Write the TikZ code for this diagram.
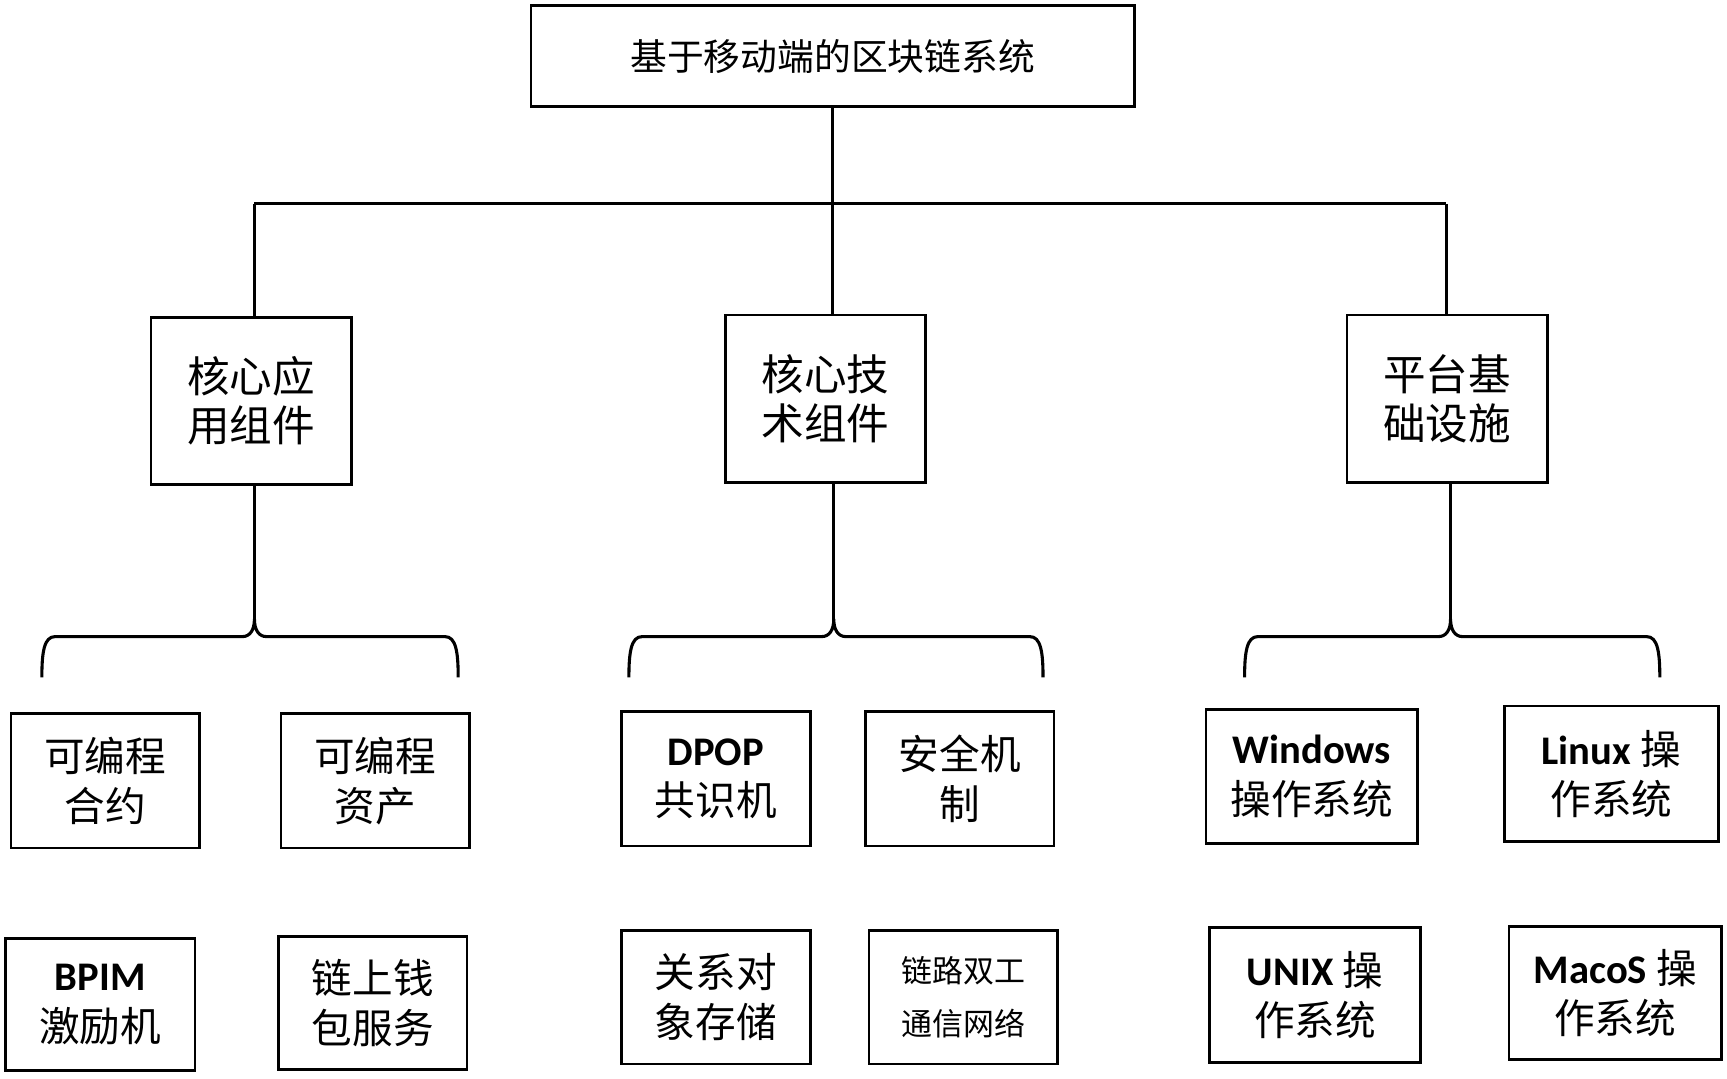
\documentclass[tikz,border=0pt]{standalone}
\usepackage{fontspec}
\setmainfont{Noto Sans CJK SC}
\newfontfamily\latin{Carlito}
\usetikzlibrary{positioning}
\newcommand{\lat}[1]{{\latin\bfseries #1}}

\begin{document}
\begin{tikzpicture}[x=0.02cm, y=-0.02cm,
		every path/.style={line width=1.6pt},
		box/.style={draw, line width=1.4pt, inner sep=0pt, align=center},
		topbox/.style={box, font=\fontsize{19}{22}\selectfont},
		midbox/.style={box, minimum width=3.64cm, minimum height=3.04cm, font=\fontsize{22}{25}\selectfont},
		leafbox/.style={box, minimum height=2.44cm, font=\fontsize{21}{26}\selectfont}]
		\useasboundingbox (0,0) rectangle (1568,979);
		
		\node[topbox, minimum width=10.96cm, minimum height=1.84cm] (top) at (756,51) {基于移动端的区块链系统};
		
		\node[midbox] (app) at (228,364) {核心应\\用组件};
		\node[midbox] (tech) at (749.5,362) {核心技\\术组件};
		\node[midbox] (plat) at (1314,362) {平台基\\础设施};
		
		\node[leafbox, minimum width=3.42cm] (contract) at (95.5,709) {可编程\\合约};
		\node[leafbox, minimum width=3.42cm] (asset) at (340.5,709) {可编程\\资产};
		\node[leafbox, minimum width=3.44cm] (dpop) at (650,707) {\lat{DPOP}\\共识机};
		\node[leafbox, minimum width=3.42cm] (secure) at (871.5,707) {安全机\\制};
		\node[leafbox, minimum width=3.84cm] (windows) at (1191,705) {\lat{Windows}\\操作系统};
		\node[leafbox, minimum width=3.88cm, minimum height=2.46cm] (linux) at (1463,702.5) {\lat{Linux} 操\\作系统};
		
		\node[leafbox, minimum width=3.44cm, minimum height=2.4cm] (bpim) at (91,912) {\lat{BPIM}\\激励机};
		\node[leafbox, minimum width=3.42cm, minimum height=2.42cm] (wallet) at (338.5,910.5) {链上钱\\包服务};
		\node[leafbox, minimum width=3.44cm, minimum height=2.42cm] (store) at (650,905.5) {关系对\\象存储};
		\node[leafbox, minimum width=3.42cm, minimum height=2.42cm, font=\fontsize{16}{27}\selectfont] (duplex) at (874.5,905.5) {链路双工\\通信网络};
		\node[leafbox, minimum width=3.84cm, minimum height=2.46cm] (unix) at (1194,903.5) {\lat{UNIX} 操\\作系统};
		\node[leafbox, minimum width=3.86cm, minimum height=2.42cm] (macos) at (1466.5,901.5) {\lat{MacoS} 操\\作系统};
		
		% bus from the top box
		\coordinate (busL) at (231,185);
		\coordinate (busR) at (1313,185);
		\draw (top.south) -- (top.south |- busL);
		\draw (busL) -- (busR);
		\draw (busL) -- (busL |- app.north);
		\draw (top.south |- busL) -- (top.south |- tech.north);
		\draw (busR) -- (busR |- plat.north);
		
		% braces under the groups
		\foreach \n/\t/\l/\r in {app/231/38/416, tech/757/571/947, plat/1317/1130/1507} {
			\coordinate (\n-tip) at (\t,562);
			\draw (\n.south -| \n-tip) -- (\n-tip);
			\draw (\l,615) .. controls (\l,592) and (\l+2,578) .. (\l+12,578) -- (\t-11,578)
				.. controls (\t-4,578) and (\t,572) .. (\n-tip)
				.. controls (\t,572) and (\t+4,578) .. (\t+11,578) -- (\r-12,578)
				.. controls (\r-2,578) and (\r,592) .. (\r,615);
		}
		
	\end{tikzpicture}
\end{document}
